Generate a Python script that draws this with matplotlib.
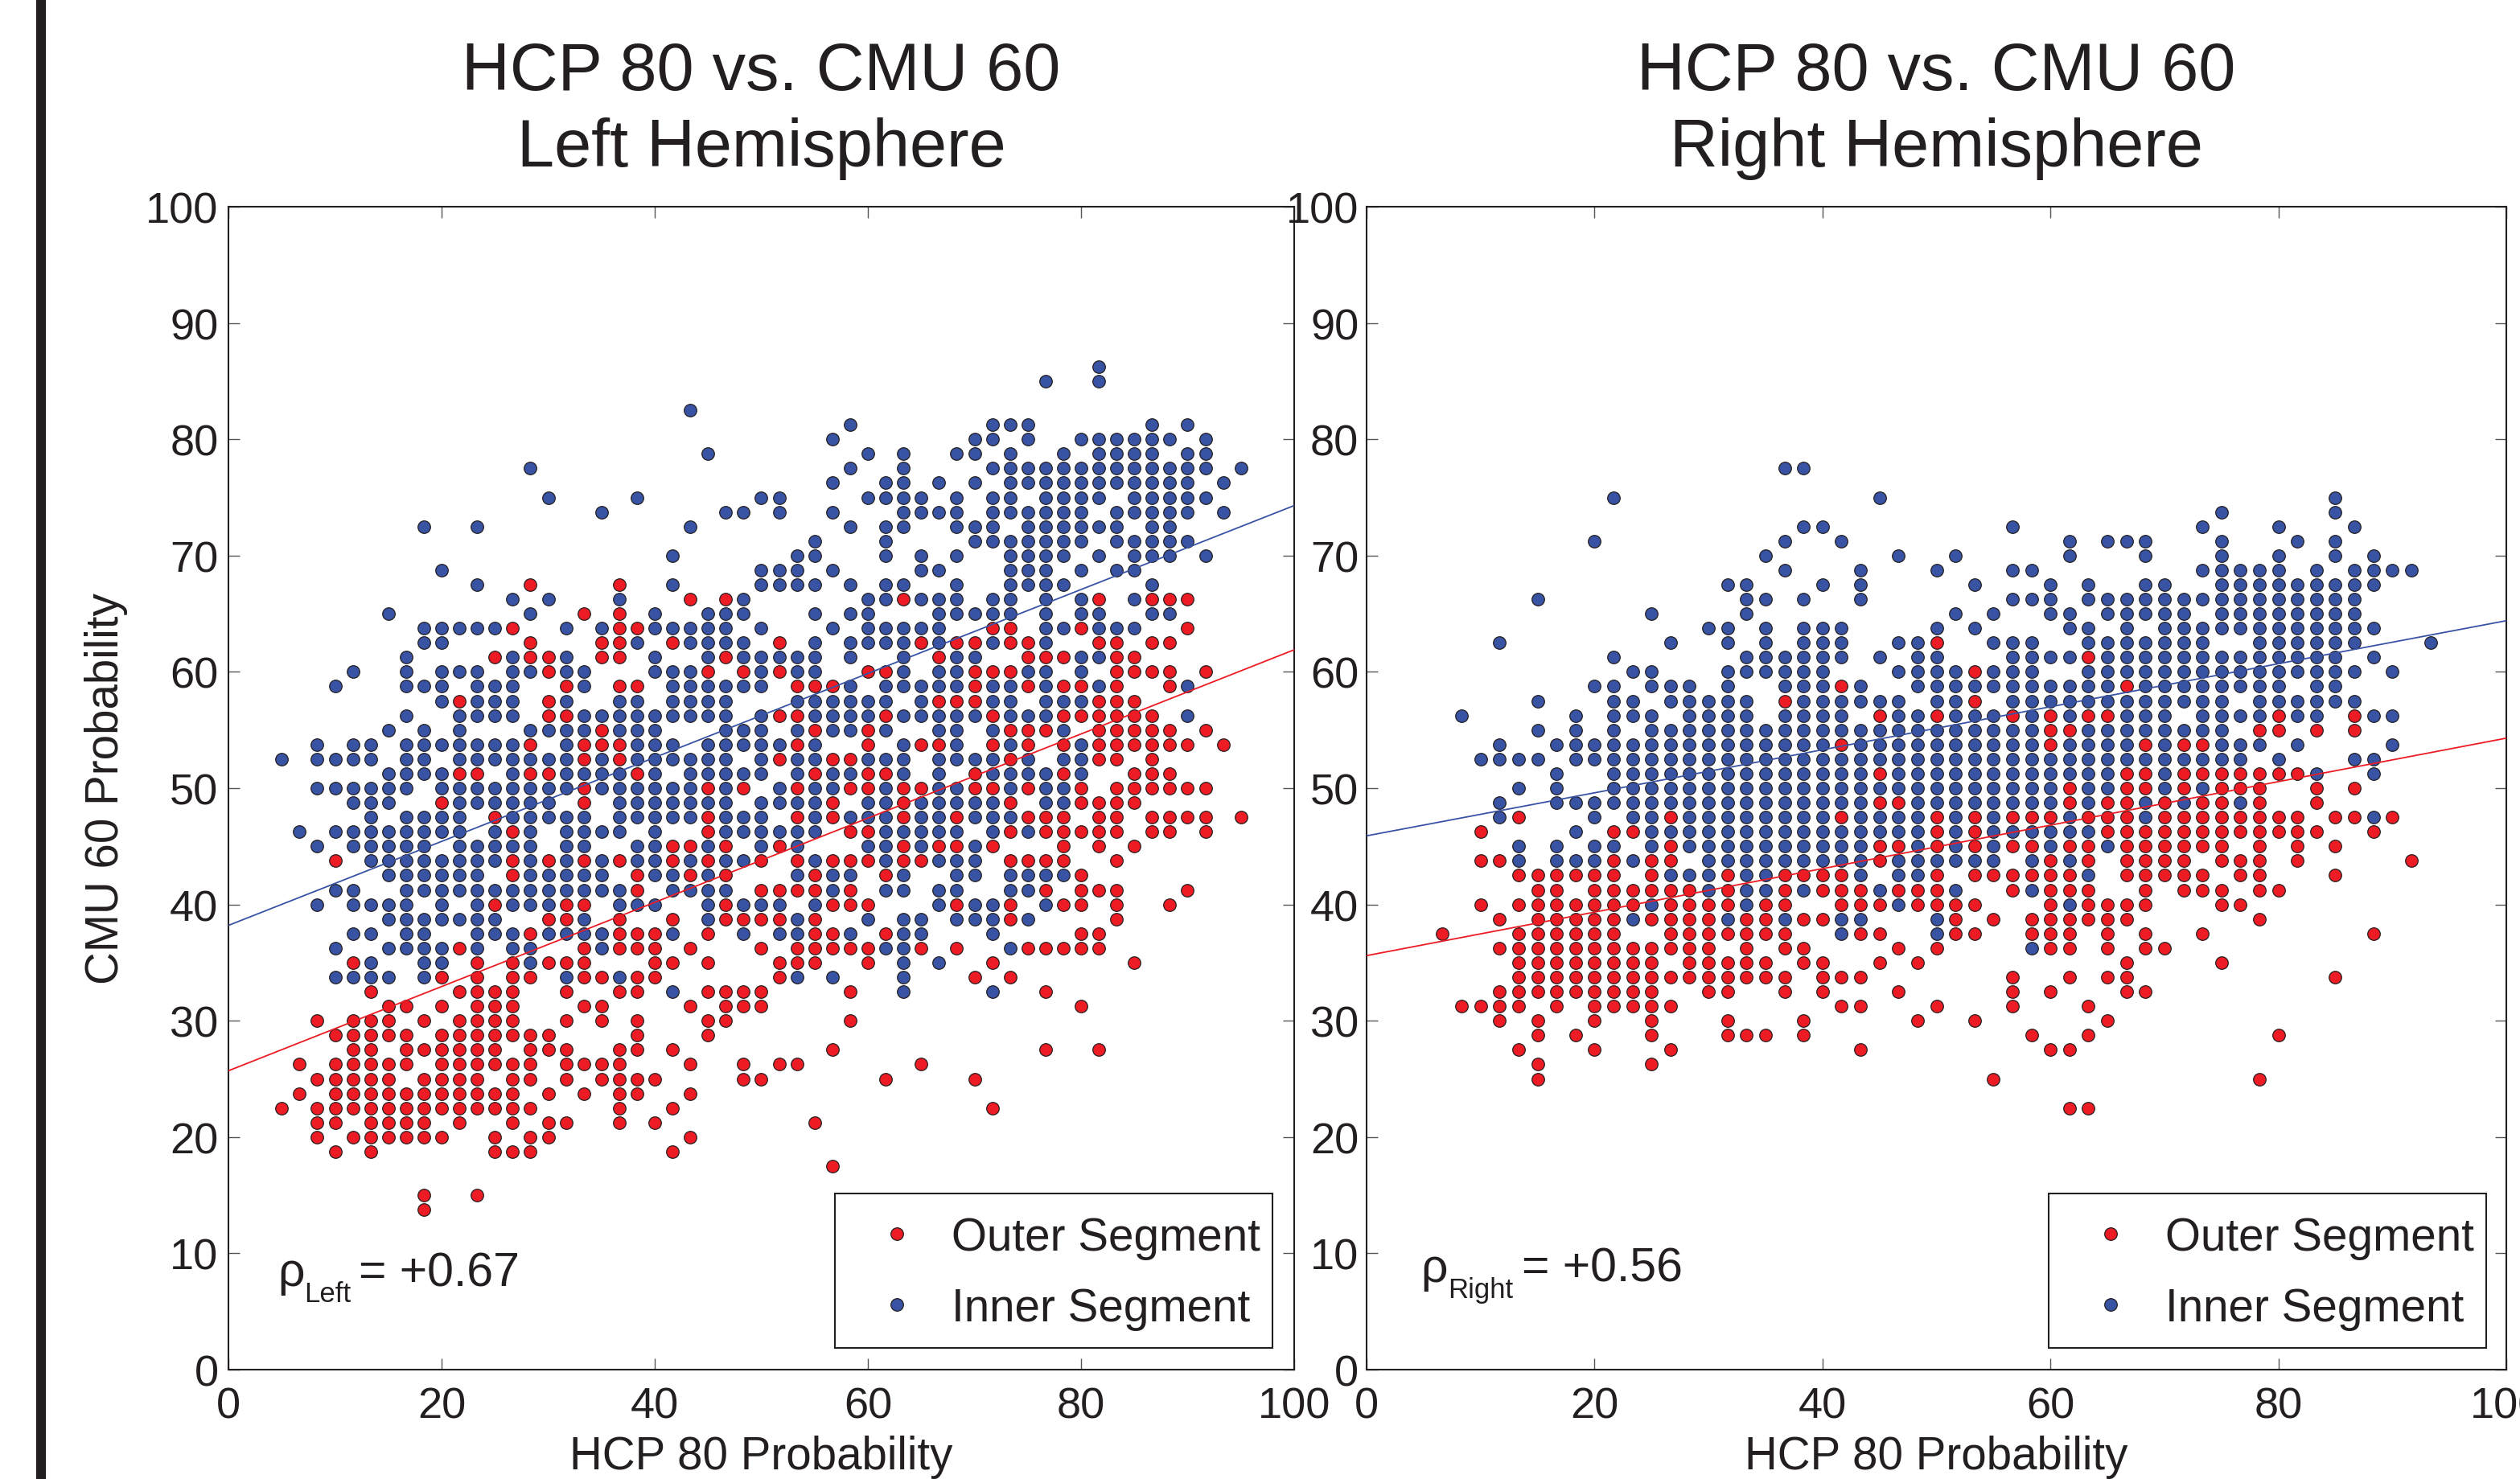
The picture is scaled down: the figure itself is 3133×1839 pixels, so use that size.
import matplotlib
matplotlib.use("Agg")
import matplotlib.pyplot as plt
from matplotlib.patches import Rectangle

plt.rcParams['font.family'] = ['Liberation Sans', 'DejaVu Sans']

DARK = '#231f20'
RED = '#ed1c24'
BLUE = '#3953a4'

# the points sit on a grid: x = count out of 60, y = count out of 80
x_steps = 60
y_steps = 80

# left hemisphere, {y count: [x counts]}
left_outer = {
    54: [17, 22],
    53: [26, 28, 38, 49, 52, 53, 54],
    52: [20, 22],
    51: [16, 22, 23, 43, 44, 48, 54],
    50: [17, 21, 22, 25, 31, 39, 41, 42, 44, 45, 49, 50, 52, 53],
    49: [15, 17, 18, 21, 22, 28, 40, 45, 46, 47, 50, 51],
    48: [18, 27, 29, 31, 36, 37, 42, 43, 44, 50, 51, 52, 53, 55],
    47: [19, 22, 23, 32, 33, 34, 42, 45, 47, 48, 50, 53],
    46: [13, 18, 40, 41, 42, 49, 50, 51],
    45: [18, 19, 31, 32, 37, 43, 47, 48, 49, 50, 51, 52],
    44: [21, 33, 36, 44, 45, 46, 49, 50, 51, 52, 53, 55],
    43: [17, 20, 21, 22, 32, 36, 39, 40, 43, 45, 47, 49, 50, 51, 52, 53, 54, 56],
    42: [20, 22, 31, 34, 35, 44, 49, 50, 52],
    41: [13, 14, 17, 18, 23, 33, 36, 37, 42, 47, 51, 52, 53],
    40: [20, 27, 29, 32, 35, 36, 38, 39, 42, 43, 45, 48, 50, 51, 52, 53, 54, 55],
    39: [12, 20, 34, 38, 44, 48, 49, 50, 51],
    38: [15, 27, 32, 34, 38, 41, 45, 46, 47, 49, 50, 52, 53, 54, 55, 57],
    37: [16, 27, 35, 36, 44, 46, 47, 48, 49, 50, 52, 53, 55],
    36: [25, 26, 28, 31, 38, 40, 41, 43, 47, 49, 51],
    35: [6, 16, 18, 20, 22, 25, 27, 30, 32, 34, 35, 36, 38, 39, 44, 45, 46, 47, 50],
    34: [16, 23, 26, 28, 33, 37, 48],
    33: [23, 30, 31, 32, 33, 35, 46, 48, 49, 50, 54],
    32: [15, 19, 20, 28, 34, 35, 36, 41, 44, 47, 48, 50, 53],
    31: [18, 19, 22, 25, 28, 29, 30, 31, 33, 44, 50],
    30: [17, 22, 23, 24, 27, 33, 34, 37, 48, 49],
    29: [13, 20, 22, 23, 24, 26, 30, 32, 33, 34, 35, 36, 39, 41, 45, 46, 47, 48, 49],
    28: [7, 14, 16, 18, 19, 20, 24, 25, 27, 31, 32, 33, 36, 43, 51],
    27: [12, 14, 16, 17, 20, 21, 23, 24, 31, 42, 44],
    26: [8, 13, 14, 15, 16, 19, 22, 23, 27, 28, 29, 30, 35, 46],
    25: [9, 10, 12, 14, 15, 16, 20, 21, 26, 28, 29, 30, 48],
    24: [5, 7, 8, 9, 11, 13, 14, 15, 16, 19, 21, 23, 27, 28, 35],
    23: [6, 7, 8, 9, 10, 12, 13, 14, 15, 16, 17, 18, 23, 27],
    22: [7, 8, 10, 11, 12, 13, 14, 15, 17, 18, 19, 22, 23, 25, 34, 46, 49],
    21: [4, 6, 7, 8, 9, 10, 12, 13, 14, 15, 16, 17, 19, 20, 21, 22, 26, 29, 31, 32, 39],
    20: [5, 6, 7, 8, 9, 11, 12, 13, 14, 16, 17, 19, 21, 22, 23, 24, 29, 30, 37, 42],
    19: [4, 6, 7, 8, 9, 10, 11, 12, 13, 14, 15, 16, 18, 20, 22, 23, 26],
    18: [3, 5, 6, 7, 8, 9, 10, 11, 12, 13, 14, 15, 16, 17, 22, 25, 43],
    17: [5, 6, 8, 9, 10, 11, 13, 16, 18, 19, 22, 24, 33],
    16: [5, 7, 8, 9, 10, 11, 12, 15, 17, 18, 26],
    15: [6, 8, 15, 16, 17, 25],
    14: [34],
    12: [11, 14],
    11: [11],
}

left_inner = {
    69: [49],
    68: [46, 49],
    66: [26],
    65: [35, 43, 44, 45, 52, 54],
    64: [34, 42, 43, 45, 48, 49, 50, 51, 52, 53, 55],
    63: [27, 36, 38, 41, 42, 44, 47, 49, 50, 51, 52, 54, 55],
    62: [17, 35, 38, 43, 44, 45, 46, 47, 48, 49, 50, 51, 52, 53, 54, 55, 57],
    61: [34, 37, 38, 40, 42, 44, 45, 46, 47, 48, 49, 50, 51, 52, 53, 54, 56],
    60: [18, 23, 30, 31, 36, 37, 38, 39, 41, 43, 44, 46, 47, 48, 49, 51, 52, 53, 54, 55],
    59: [21, 28, 29, 31, 34, 38, 39, 40, 41, 43, 44, 45, 46, 47, 48, 50, 51, 52, 53, 54, 56],
    58: [11, 14, 26, 35, 37, 38, 41, 42, 43, 45, 46, 47, 48, 49, 50, 52, 53],
    57: [33, 37, 42, 43, 44, 45, 46, 47, 48, 50, 51, 52, 53, 54],
    56: [25, 32, 33, 37, 39, 41, 44, 45, 46, 47, 49, 51, 52, 53, 55],
    55: [12, 30, 31, 32, 34, 39, 40, 44, 45, 46, 48, 50, 51],
    54: [14, 25, 30, 31, 32, 33, 35, 37, 38, 41, 44, 45, 46, 47, 52],
    53: [16, 18, 22, 29, 36, 37, 39, 40, 41, 43, 44, 46, 48, 51],
    52: [9, 17, 24, 27, 28, 29, 33, 35, 36, 40, 41, 42, 43, 44, 46, 48, 49, 52, 53],
    51: [11, 12, 13, 14, 15, 19, 21, 24, 25, 26, 27, 28, 30, 34, 36, 37, 38, 39, 40, 46, 47, 49, 50, 51],
    50: [11, 12, 23, 26, 27, 28, 29, 33, 35, 36, 37, 38, 40, 43, 46],
    49: [10, 16, 19, 24, 27, 29, 30, 31, 32, 33, 35, 38, 41, 42, 48, 49],
    48: [7, 10, 12, 13, 14, 16, 17, 19, 20, 24, 25, 26, 30, 32, 33, 38, 40, 41, 45, 46, 48],
    47: [6, 10, 11, 12, 14, 15, 16, 20, 25, 26, 27, 28, 29, 30, 35, 37, 38, 39, 40, 41, 43, 44, 46, 49, 54],
    46: [12, 14, 15, 16, 19, 22, 23, 25, 26, 27, 28, 32, 33, 34, 35, 36, 37, 39, 43, 44, 46, 47, 48],
    45: [10, 13, 14, 15, 16, 20, 21, 22, 23, 24, 25, 26, 27, 28, 30, 33, 34, 35, 36, 38, 39, 40, 41, 42, 44, 45, 46, 54],
    44: [9, 11, 13, 17, 18, 19, 20, 22, 23, 24, 28, 29, 30, 32, 34, 35, 37, 40, 41, 43, 47],
    43: [5, 7, 8, 10, 11, 12, 13, 14, 15, 16, 19, 23, 24, 25, 27, 28, 29, 30, 31, 33, 38, 41, 44, 48],
    42: [3, 5, 6, 7, 8, 10, 11, 13, 14, 15, 16, 17, 18, 19, 21, 23, 24, 25, 26, 27, 28, 30, 32, 33, 36, 37, 38, 40, 41, 42, 43, 45, 47, 48],
    41: [9, 10, 11, 12, 16, 19, 20, 21, 22, 24, 26, 27, 28, 29, 30, 32, 34, 35, 38, 40, 43, 44, 45, 46, 48],
    40: [5, 6, 7, 8, 9, 10, 12, 13, 14, 15, 16, 17, 18, 19, 21, 22, 23, 24, 25, 26, 28, 31, 33, 34, 37, 40, 41, 44, 46, 47],
    39: [7, 8, 9, 13, 14, 15, 16, 17, 18, 22, 23, 24, 25, 26, 27, 28, 30, 31, 32, 33, 36, 37, 39, 40, 41, 42, 43, 46, 47],
    38: [8, 10, 11, 12, 13, 16, 17, 18, 19, 20, 22, 23, 24, 25, 26, 28, 29, 30, 33, 35, 36, 37, 39, 40, 42, 43, 44],
    37: [4, 6, 7, 8, 9, 10, 11, 12, 13, 15, 17, 19, 20, 21, 22, 24, 28, 29, 30, 31, 32, 33, 37, 38, 39, 40, 41, 43, 45],
    36: [5, 7, 8, 9, 10, 11, 13, 14, 15, 16, 17, 19, 20, 23, 24, 27, 30, 32, 36, 37, 39, 42],
    35: [8, 9, 10, 11, 12, 13, 14, 15, 17, 19, 21, 23, 24, 26, 28, 29, 33, 37, 40, 41, 42],
    34: [9, 10, 11, 12, 13, 14, 17, 18, 19, 20, 21, 24, 25, 27, 32, 34, 35, 38, 41, 42, 44, 45, 46, 47],
    33: [6, 7, 10, 11, 12, 13, 14, 15, 16, 17, 18, 19, 20, 21, 22, 25, 26, 27, 28, 34, 37, 38, 40, 41, 44, 45],
    32: [5, 7, 8, 9, 10, 12, 14, 16, 17, 18, 22, 23, 24, 27, 29, 30, 31, 33, 40, 42, 43, 46],
    31: [9, 10, 11, 12, 13, 14, 15, 20, 27, 32, 36, 38, 39, 41, 42, 43, 45],
    30: [7, 8, 10, 11, 14, 15, 16, 18, 19, 20, 21, 25, 29, 31, 32, 35, 38, 39, 43],
    29: [6, 9, 10, 11, 12, 14, 16, 17, 21, 37, 38, 44],
    28: [8, 11, 12, 17, 38, 40],
    27: [6, 7, 8, 9, 11, 19, 22, 32, 34, 38],
    26: [25, 38, 43],
}

# right hemisphere, same layout
right_outer = {
    50: [30],
    49: [38],
    48: [32],
    47: [25, 40],
    46: [22, 32],
    45: [27, 30, 34, 36, 38, 39, 48, 52],
    44: [36, 37, 47, 48, 50, 52],
    43: [25, 36, 41, 43, 44],
    41: [27, 40, 41, 43, 44, 45, 46, 47, 48, 49],
    40: [37, 40, 41, 43, 45, 46, 47, 50, 52],
    39: [27, 28, 37, 39, 40, 42, 44, 45, 47, 50],
    38: [8, 16, 25, 30, 32, 34, 35, 36, 38, 39, 40, 42, 43, 44, 45, 46, 47, 48, 49, 51, 52, 54],
    37: [6, 13, 14, 30, 32, 39, 40, 41, 42, 43, 44, 45, 46, 47, 48, 49, 50, 53],
    36: [16, 27, 28, 30, 32, 34, 35, 37, 38, 40, 41, 42, 43, 44, 45, 47, 49, 51],
    35: [6, 7, 13, 15, 16, 27, 36, 38, 40, 41, 42, 43, 45, 46, 47, 49, 55],
    34: [8, 9, 10, 11, 12, 13, 15, 19, 22, 23, 24, 25, 30, 32, 33, 34, 35, 36, 37, 40, 41, 42, 43, 44, 46, 47, 51],
    33: [9, 10, 12, 13, 14, 15, 16, 17, 19, 22, 24, 25, 26, 28, 29, 30, 34, 36, 37, 38, 41, 43, 44, 45, 47, 48],
    32: [6, 8, 9, 10, 11, 12, 13, 14, 16, 17, 18, 19, 21, 22, 25, 26, 27, 29, 30, 31, 32, 36, 38, 39, 40, 41, 45, 46],
    31: [7, 9, 10, 11, 12, 13, 15, 16, 17, 18, 20, 21, 23, 24, 31, 33, 35, 36, 37, 38, 39, 40, 47],
    30: [4, 8, 9, 10, 11, 12, 13, 16, 17, 18, 19, 20, 21, 22, 26, 27, 31, 32, 35, 36, 37, 39, 41, 44, 53],
    29: [7, 8, 9, 10, 11, 12, 13, 14, 15, 16, 17, 18, 20, 22, 23, 28, 30, 36, 37, 39, 41, 42],
    28: [8, 9, 10, 11, 12, 13, 14, 15, 17, 18, 19, 20, 21, 23, 24, 27, 29, 40, 45],
    27: [8, 9, 10, 11, 12, 13, 14, 15, 16, 17, 18, 19, 20, 21, 22, 24, 25, 26, 34, 37, 39, 40, 51],
    26: [7, 8, 9, 10, 11, 12, 13, 14, 15, 18, 19, 22, 24, 28, 34, 36, 40, 41],
    25: [5, 6, 7, 8, 10, 12, 13, 14, 15, 16, 25, 26, 30, 34, 38],
    24: [7, 9, 12, 15, 19, 23, 29, 32, 39],
    23: [9, 11, 15, 19, 20, 21, 23, 35, 38, 48],
    22: [8, 12, 16, 26, 36, 37],
    21: [9, 15],
    20: [9, 33, 47],
    18: [37, 38],
}

right_inner = {
    62: [22, 23],
    60: [13, 27, 51],
    59: [45, 51],
    58: [23, 24, 34, 44, 48, 52],
    57: [12, 22, 25, 37, 39, 40, 41, 45, 49, 51],
    56: [21, 28, 31, 37, 41, 45, 48, 51, 53],
    55: [22, 26, 30, 34, 35, 44, 45, 46, 47, 48, 50, 52, 53, 54, 55],
    54: [19, 20, 24, 26, 32, 36, 38, 41, 42, 45, 46, 47, 48, 49, 50, 51, 52, 53],
    53: [9, 20, 21, 23, 26, 34, 35, 36, 38, 39, 40, 41, 42, 43, 44, 45, 46, 47, 48, 49, 50, 51, 52],
    52: [15, 20, 31, 33, 36, 37, 39, 40, 41, 42, 43, 45, 46, 47, 48, 49, 50, 51, 52],
    51: [18, 19, 21, 23, 24, 25, 30, 32, 37, 38, 40, 42, 43, 44, 45, 46, 47, 48, 49, 50, 51, 52, 53],
    50: [7, 16, 19, 21, 23, 24, 25, 28, 29, 33, 34, 35, 38, 39, 40, 41, 42, 43, 44, 47, 48, 49, 50, 51, 52, 56],
    49: [13, 20, 21, 22, 23, 24, 25, 27, 29, 30, 34, 35, 36, 37, 39, 40, 41, 42, 43, 44, 45, 46, 47, 48, 49, 50, 51, 53],
    48: [14, 15, 19, 20, 21, 22, 23, 24, 28, 29, 30, 31, 33, 34, 35, 38, 39, 40, 41, 42, 43, 44, 45, 46, 47, 48, 49, 50, 51, 52, 54],
    47: [12, 13, 15, 16, 17, 19, 22, 23, 24, 26, 29, 30, 31, 32, 33, 34, 35, 36, 37, 38, 39, 41, 42, 43, 44, 45, 46, 47, 48, 50, 51],
    46: [9, 13, 14, 16, 17, 18, 19, 20, 23, 24, 25, 26, 27, 28, 30, 31, 34, 35, 36, 37, 38, 39, 40, 41, 42, 43, 44, 45, 47, 48, 49, 50, 51, 52],
    45: [5, 11, 13, 14, 15, 17, 18, 19, 20, 22, 23, 24, 25, 28, 29, 31, 32, 33, 35, 37, 40, 41, 42, 44, 45, 46, 47, 49, 50, 53, 54],
    44: [9, 11, 13, 15, 16, 17, 18, 19, 20, 21, 22, 23, 24, 25, 26, 27, 28, 29, 30, 31, 32, 33, 34, 35, 38, 39, 40, 41, 42, 43, 44, 45],
    43: [7, 10, 11, 12, 13, 14, 15, 16, 17, 18, 19, 20, 21, 22, 23, 24, 26, 27, 28, 29, 30, 31, 32, 33, 34, 35, 37, 38, 39, 40, 42, 45, 46, 47, 49, 54],
    42: [6, 7, 8, 9, 11, 12, 13, 14, 15, 16, 17, 18, 19, 20, 21, 22, 23, 24, 25, 26, 27, 28, 29, 30, 31, 32, 33, 34, 35, 36, 37, 38, 39, 40, 41, 42, 43, 44, 45, 46, 48, 52, 53],
    41: [10, 13, 14, 15, 16, 17, 18, 19, 20, 21, 22, 23, 24, 25, 26, 28, 29, 30, 31, 32, 33, 34, 35, 36, 37, 38, 39, 42, 50, 53],
    40: [8, 10, 13, 14, 15, 16, 17, 18, 19, 20, 21, 22, 23, 24, 25, 26, 27, 28, 29, 30, 31, 32, 33, 34, 35, 36, 38, 39, 42, 44],
    39: [7, 10, 11, 12, 13, 14, 15, 16, 17, 18, 19, 20, 21, 22, 23, 24, 25, 26, 29, 30, 31, 32, 33, 34, 35, 36, 38, 41, 43, 46],
    38: [7, 12, 14, 15, 17, 18, 19, 20, 21, 22, 23, 24, 26, 27, 28, 29, 31, 33, 37, 41, 53],
    37: [11, 15, 16, 17, 18, 19, 20, 21, 22, 23, 24, 25, 26, 27, 28, 29, 31, 33, 34, 35, 36, 37, 38],
    36: [8, 10, 12, 13, 15, 17, 18, 19, 20, 21, 22, 23, 24, 25, 26, 29, 31, 33, 36, 39],
    35: [8, 10, 11, 12, 14, 18, 19, 20, 21, 22, 23, 24, 25, 26, 28, 29, 30, 31, 32, 33, 35, 37],
    34: [16, 17, 18, 20, 21, 26, 28, 29, 38],
    33: [18, 20, 21, 23, 27, 31, 35],
    32: [15, 20, 28, 37],
    31: [14, 19, 22, 25, 26, 30],
    30: [25, 30],
    29: [35],
}

# fit lines, value at x=0 and x=100
fit_x = [0, 100]
left_outer_fit = [25.7, 61.9]
left_inner_fit = [38.2, 74.3]
right_outer_fit = [35.6, 54.3]
right_inner_fit = [45.9, 64.4]

xticks = [0, 20, 40, 60, 80, 100]
yticks = [0, 10, 20, 30, 40, 50, 60, 70, 80, 90, 100]


def to_percent(rows):
    xs = []
    ys = []
    for y_count, x_counts in rows.items():
        for x_count in x_counts:
            xs.append(x_count * 100 / x_steps)
            ys.append(y_count * 100 / y_steps)
    return xs, ys


def draw_panel(ax, outer, inner, outer_fit, inner_fit, title, box_x, box_w, text_right):
    x, y = to_percent(outer)
    ax.plot(x, y, 'o', ms=11.2, mfc=RED, mec=DARK, mew=0.9, label='Outer Segment', zorder=3)
    x, y = to_percent(inner)
    ax.plot(x, y, 'o', ms=11.2, mfc=BLUE, mec=DARK, mew=0.9, label='Inner Segment', zorder=3)
    ax.plot(fit_x, outer_fit, color=RED, lw=1.3, zorder=4)
    ax.plot(fit_x, inner_fit, color=BLUE, lw=1.3, zorder=4)

    ax.set_xlim(0, 100)
    ax.set_ylim(0, 100)
    ax.set_xticks(xticks)
    ax.set_yticks(yticks)
    ax.tick_params(axis='x', direction='in', top=True, length=10, width=1.0, color='#555555',
                   labelsize=39, labelcolor=DARK, pad=15)
    ax.tick_params(axis='y', direction='in', right=True, length=10, width=1.0, color='#555555',
                   labelsize=39, labelcolor=DARK, pad=9)
    for side in ax.spines.values():
        side.set_linewidth(1.5)
        side.set_color(DARK)

    ax.set_title(title, fontsize=59.7, color=DARK, pad=37, linespacing=1.27)
    ax.set_xlabel('HCP 80 Probability', fontsize=40.7, color=DARK, labelpad=7)

    # the box is drawn apart from the legend, its side and top margins differ
    ax.add_patch(Rectangle((box_x, 0.019), box_w, 0.1324, transform=ax.transAxes, facecolor='white',
                           edgecolor=DARK, lw=1.5, zorder=5))
    leg = ax.legend(loc='lower right', bbox_to_anchor=(text_right, 0.034), borderaxespad=0, borderpad=0,
                    fontsize=40.8, labelcolor=DARK, frameon=False, labelspacing=0.6, handlelength=2.0,
                    handletextpad=0.2, numpoints=1)
    leg.set_zorder(6)


fig = plt.figure(figsize=(31.33, 18.40), dpi=100)
ax_left = fig.add_axes([284 / 3133, 136 / 1840, 1325 / 3133, 1446 / 1840])
ax_right = fig.add_axes([1699 / 3133, 136 / 1840, 1417 / 3133, 1446 / 1840])

draw_panel(ax_left, left_outer, left_inner, left_outer_fit, left_inner_fit,
           'HCP 80 vs. CMU 60\nLeft Hemisphere', 0.569, 0.4106, 0.9683)
draw_panel(ax_right, right_outer, right_inner, right_outer_fit, right_inner_fit,
           'HCP 80 vs. CMU 60\nRight Hemisphere', 0.5984, 0.3839, 0.9718)

ax_left.set_ylabel('CMU 60 Probability', fontsize=40.7, color=DARK, labelpad=16)
ax_right.tick_params(axis='y', pad=7)

# correlation notes, rho and its subscript are separate texts
ax_left.text(0.046, 0.0726, 'ρ', transform=ax_left.transAxes, fontsize=42.5, color=DARK)
ax_left.text(0.071, 0.0588, 'Left', transform=ax_left.transAxes, fontsize=25, color=DARK)
ax_left.text(0.122, 0.0726, '= +0.67', transform=ax_left.transAxes, fontsize=42.5, color=DARK)
ax_right.text(0.0473, 0.0761, 'ρ', transform=ax_right.transAxes, fontsize=42.5, color=DARK)
ax_right.text(0.0713, 0.0622, 'Right', transform=ax_right.transAxes, fontsize=25, color=DARK)
ax_right.text(0.136, 0.0761, '= +0.56', transform=ax_right.transAxes, fontsize=42.5, color=DARK)

# black bar down the left edge of the page
fig.add_artist(Rectangle((45 / 3133, 0), 12 / 3133, 1, transform=fig.transFigure, color=DARK, lw=0))

fig.savefig('out.png', dpi=100)
